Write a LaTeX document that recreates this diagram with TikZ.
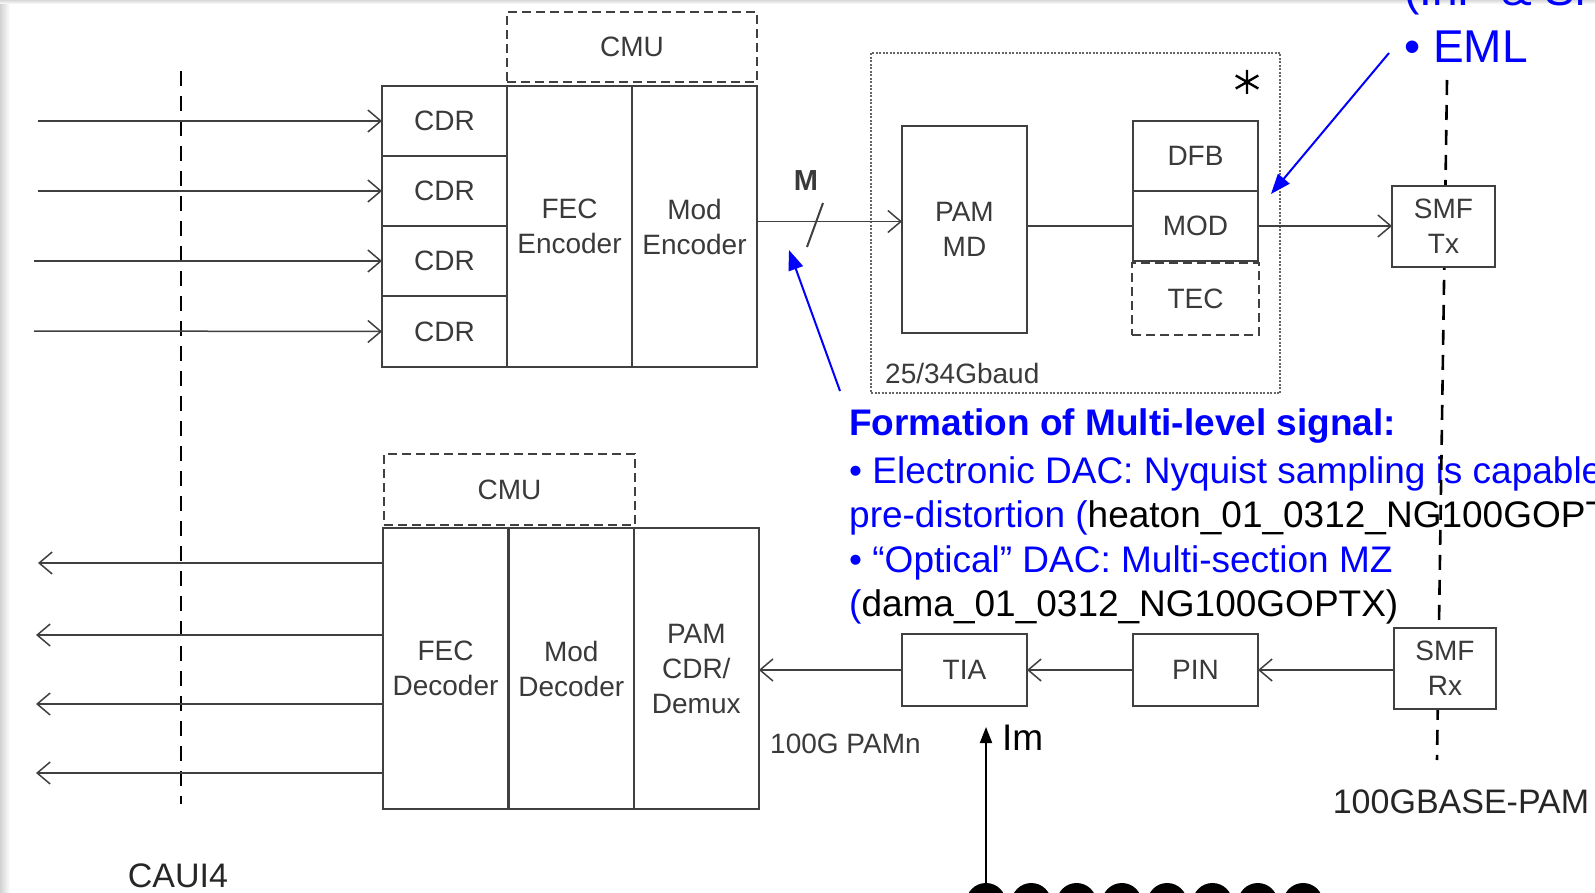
\documentclass[tikz,border=0pt]{standalone}
\usepackage{fontspec}
\setmainfont{Liberation Sans}
\usepackage{tikz}
\usetikzlibrary{arrows.meta, positioning}
\definecolor{linegray}{RGB}{64,64,64}
\definecolor{textgray}{RGB}{58,58,58}
\definecolor{noteblue}{RGB}{0,0,255}
\newcommand{\boxfont}{\fontsize{28}{35}\selectfont}
\newcommand{\notefont}{\fontsize{37}{45}\selectfont}
\newcommand{\emlfont}{\fontsize{46}{57}\selectfont}
\newcommand{\capfont}{\fontsize{34}{40}\selectfont}

\begin{document}
\begin{tikzpicture}[
            x=1pt, y=-1pt,
            every node/.style={font=\boxfont, text=textgray, align=center},
            box/.style={rectangle, draw=linegray, line width=1.6pt, fill=white, inner sep=0pt, outer sep=0pt, minimum width=125pt, minimum height=70pt},
            dashbox/.style={box, dash pattern=on 9pt off 5pt},
            dotbox/.style={rectangle, draw=linegray!80, line width=1.5pt, dash pattern=on 2pt off 1.5pt, inner sep=0pt, outer sep=0pt},
            refline/.style={draw=black, line width=2.6pt, dash pattern=on 15pt off 10pt},
            arrow/.style={-{Straight Barb[length=13pt, width=22pt]}, line width=1.5pt, draw=linegray},
            link/.style={line width=1.5pt, draw=linegray},
            bluearrow/.style={-{Triangle[length=20pt, width=15pt]}, line width=2pt, draw=noteblue},
            note/.style={font=\notefont, text=noteblue, anchor=base west, inner sep=0pt, align=left}
        ]
            \useasboundingbox (0,0) rectangle (1595,893);
            \clip (0,0) rectangle (1595,893);
            \fill[left color=gray!35, right color=white] (0,0) rectangle (10,893);
            \fill[top color=gray!30, bottom color=white] (0,0) rectangle (1595,4);
            % notes in blue
            \node[note, font=\bfseries\notefont] (ftitle) at (849,435) {Formation of Multi-level signal:};
            \node[note] (fl1) at (849,483) {• Electronic DAC: Nyquist sampling is capable};
            \node[note] (fl2) at (849,527) {pre-distortion (\textcolor{black}{heaton\_01\_0312\_NG100GOPT}};
            \node[note] (fl3) at (849,572) {• “Optical” DAC: Multi-section MZ};
            \node[note] (fl4) at (849,616) {(\textcolor{black}{dama\_01\_0312\_NG100GOPTX)}};
            \node[note, font=\emlfont] (inp) at (1404,6) {(InP \& Si};
            \node[note, font=\emlfont] (eml) at (1404,63) {• EML};
            % reference planes
            \coordinate (cauitop) at (181,71);
            \coordinate (cauibot) at (181,804);
            \coordinate (pmdtop) at (1447,80);
            \coordinate (pmdbot) at (1437,760);
            \draw[refline] (cauitop) -- (cauibot);
            \draw[refline] (pmdtop) -- (pmdbot);
            % transmit path
            \node[box] (cdr1) at (444.5,121) {CDR};
            \node[box, below=0pt of cdr1] (cdr2) {CDR};
            \node[box, below=0pt of cdr2] (cdr3) {CDR};
            \node[box, below=0pt of cdr3, minimum height=71pt] (cdr4) {CDR};
            \node[box, anchor=north west, minimum height=281pt] (fenc) at (cdr1.north east) {FEC\\Encoder};
            \node[box, anchor=north west, minimum height=281pt] (menc) at (fenc.north east) {Mod\\Encoder};
            \node[dashbox, anchor=south west, minimum width=250pt] (cmu1) at ([yshift=4pt]fenc.north west) {CMU};
            \node[dotbox, minimum width=409pt, minimum height=340pt] (laser) at (1075.5,223) {};
            \node[box, minimum height=207pt] (pammd) at (964.5,229.5) {PAM\\MD};
            \node[box] (dfb) at (1195.5,156) {DFB};
            \node[box, below=0pt of dfb] (mod) {MOD};
            \node[dashbox, below=2pt of mod, minimum width=127pt, minimum height=72pt] (tec) {TEC};
            \coordinate (star) at (1247,82);
            \draw[line width=2.4pt, shift={(star)}] (90:12) -- (270:12) (30:13) -- (210:13) (150:13) -- (330:13);
            \node[anchor=west, inner sep=0pt] (baud) at (885,373) {25/34Gbaud};
            \node[box, minimum width=103pt, minimum height=81pt] (smftx) at (1443.5,226.5) {SMF\\Tx};
            % receive path
            \node[box, minimum height=281pt] (fdec) at (445.5,668.5) {FEC\\Decoder};
            \node[box, anchor=west, minimum height=281pt] (mdec) at ([xshift=0.8pt]fdec.east) {Mod\\Decoder};
            \node[box, anchor=west, minimum height=281pt] (demux) at (mdec.east) {PAM\\CDR/\\Demux};
            \node[dashbox, anchor=south west, minimum width=251pt, minimum height=71pt] (cmu2) at ([xshift=1pt, yshift=3pt]fdec.north west) {CMU};
            \node[box, minimum height=72pt] (tia) at (964.5,670) {TIA};
            \node[box, minimum height=72pt] (pin) at (1195.5,670) {PIN};
            \node[box, minimum width=102pt, minimum height=81pt] (smfrx) at (1445,668.5) {SMF\\Rx};
            % labels
            \node[font=\capfont, text=black!85] (caui) at (178,876) {CAUI4};
            \node[font=\capfont, text=black!85] (pamlbl) at (1461,802) {100GBASE-PAM};
            \node[anchor=west, inner sep=0pt] (pamn) at (770,744) {100G PAMn};
            \node[font=\bfseries\fontsize{29}{32}\selectfont] (mlbl) at (806,181) {M};
            \node[note, text=black, anchor=west] (im) at (1002,738) {Im};
            % lane inputs and outputs
            \coordinate (in1) at (38,121);
            \coordinate (in2) at (38,191);
            \coordinate (in3) at (34,261);
            \coordinate (in4) at (34,331);
            \draw[arrow] (in1) -- (cdr1.west);
            \draw[arrow] (in2) -- (cdr2.west);
            \draw[arrow] (in3) -- (cdr3.west);
            \draw[arrow] (in4) -- (cdr4.west);
            \coordinate (out1) at (38,563);
            \coordinate (out2) at (36,635);
            \coordinate (out3) at (36,704);
            \coordinate (out4) at (36,773);
            \draw[arrow] (fdec.west |- out1) -- (out1);
            \draw[arrow] (fdec.west |- out2) -- (out2);
            \draw[arrow] (fdec.west |- out3) -- (out3);
            \draw[arrow] (fdec.west |- out4) -- (out4);
            % signal chain
            \coordinate (pamin) at ([yshift=8pt]pammd.west);
            \draw[arrow] (menc.east |- pamin) -- (pamin);
            \draw[link] (pammd.east |- mod.west) -- (mod.west);
            \draw[arrow] (mod.east) -- (smftx.west |- mod.east);
            \draw[arrow] (smfrx.west |- pin.east) -- (pin.east);
            \draw[arrow] (pin.west) -- (tia.east);
            \draw[arrow] (tia.west) -- (demux.east |- tia.west);
            \draw[line width=2pt, draw=linegray] (823,203) -- (807,247);
            % monitor current
            \foreach \i in {0,...,7}
                \node[circle, fill=black, minimum size=40pt, inner sep=0pt] (c\i) at (986+45.3*\i,903) {};
            \coordinate (imtip) at (986,727);
            \draw[-{Triangle[length=16pt, width=12pt]}, line width=2pt] (c0.north) -- (imtip);
            % blue pointers
            \coordinate (n1tail) at (840,391);
            \coordinate (n1tip) at (789,250);
            \draw[bluearrow] (n1tail) -- (n1tip);
            \coordinate (n2tail) at (1389,53);
            \coordinate (n2tip) at (1271,194);
            \draw[bluearrow] (n2tail) -- (n2tip);
        \end{tikzpicture}
\end{document}
